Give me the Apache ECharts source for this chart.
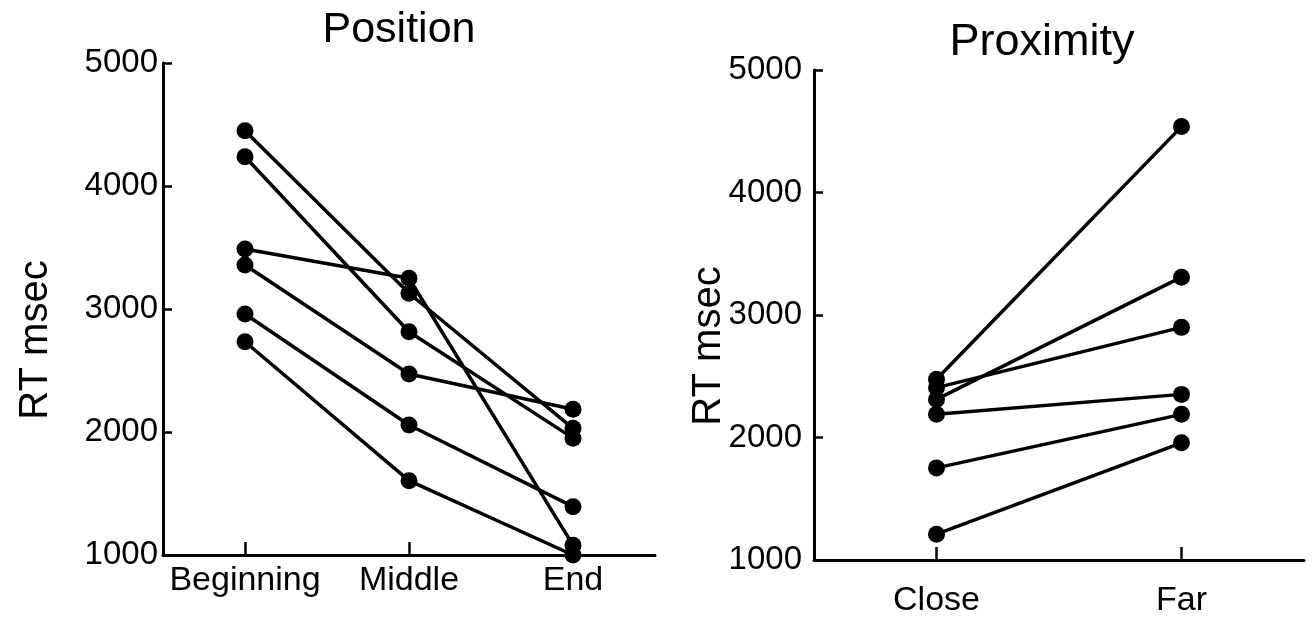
<!DOCTYPE html>
<html>
<head>
<meta charset="utf-8">
<script src="https://cdn.jsdelivr.net/npm/echarts@6/dist/echarts.min.js"></script>
<style>
html,body{margin:0;padding:0;background:#fff;}
#chart{width:1314px;height:623px;}
</style>
</head>
<body>
<div id="chart"></div>
<script>
// ---- data ----
var positionCategories = ['Beginning', 'Middle', 'End'];
var proximityCategories = ['Close', 'Far'];
var yTicks = [1000, 2000, 3000, 4000, 5000];

// Position panel: one array per subject (Beginning, Middle, End)
var pos1 = [4450, 3128, 2030];
var pos2 = [4238, 2815, 1950];
var pos3 = [3488, 3250, 1080];
var pos4 = [3358, 2472, 2185];
var pos5 = [2959, 2057, 1393];
var pos6 = [2734, 1604, 1000];

// Proximity panel: one array per subject (Close, Far)
var prox1 = [2475, 4538];
var prox2 = [2407, 2899];
var prox3 = [2311, 3309];
var prox4 = [2189, 2352];
var prox5 = [1752, 2189];
var prox6 = [1211, 1957];

var FONT = 'Liberation Sans';
var positionSeries = [pos1, pos2, pos3, pos4, pos5, pos6];
var proximitySeries = [prox1, prox2, prox3, prox4, prox5, prox6];

function mkSeries(arr, idx) {
  return arr.map(function (d) {
    return {
      type: 'line',
      xAxisIndex: idx,
      yAxisIndex: idx,
      data: d,
      symbol: 'circle',
      symbolSize: 17,
      itemStyle: { color: '#000' },
      lineStyle: { color: '#000', width: 3.5 },
      silent: true,
      animation: false
    };
  });
}

function yAxisCfg(idx, margin) {
  return {
    type: 'value',
    gridIndex: idx,
    min: yTicks[0],
    max: yTicks[yTicks.length - 1],
    interval: 1000,
    axisLine: { show: true, lineStyle: { color: '#000', width: 3 } },
    axisTick: { show: true, inside: true, length: 9, lineStyle: { color: '#000', width: 2.5 } },
    axisLabel: { color: '#000', fontFamily: FONT, fontSize: 33, margin: margin,
      formatter: function (v) { return String(v); } },
    splitLine: { show: false }
  };
}

function xAxisCfg(idx, cats, margin) {
  return {
    type: 'category',
    gridIndex: idx,
    data: cats,
    boundaryGap: true,
    axisLine: { show: true, lineStyle: { color: '#000', width: 3 } },
    axisTick: { show: true, inside: true, alignWithLabel: true, length: 13, lineStyle: { color: '#000', width: 2.5 } },
    axisLabel: { color: '#000', fontFamily: FONT, fontSize: 34, margin: margin, interval: 0, hideOverlap: false },
    splitLine: { show: false }
  };
}

var chart = echarts.init(document.getElementById('chart'), null, { renderer: 'canvas' });
chart.setOption({
  backgroundColor: '#fff',
  animation: false,
  title: [
    { text: 'Position', left: 394, top: 4, textAlign: 'center',
      textStyle: { fontFamily: FONT, fontSize: 43, fontWeight: 'normal', color: '#000' } },
    { text: 'Proximity', left: 1037, top: 15, textAlign: 'center',
      textStyle: { fontFamily: FONT, fontSize: 45, fontWeight: 'normal', color: '#000' } }
  ],
  grid: [
    { left: 163, top: 63, width: 492, height: 492 },
    { left: 814, top: 70, width: 490, height: 490 }
  ],
  xAxis: [xAxisCfg(0, positionCategories, 9), xAxisCfg(1, proximityCategories, 24)],
  yAxis: [yAxisCfg(0, 5), yAxisCfg(1, 12)],
  graphic: [
    { type: 'text', x: 56, y: 340, rotation: Math.PI / 2,
      style: { text: 'RT msec', fontFamily: FONT, fontSize: 40, fill: '#000', align: 'center', verticalAlign: 'bottom' } },
    { type: 'text', x: 729, y: 346, rotation: Math.PI / 2,
      style: { text: 'RT msec', fontFamily: FONT, fontSize: 40, fill: '#000', align: 'center', verticalAlign: 'bottom' } }
  ],
  series: mkSeries(positionSeries, 0).concat(mkSeries(proximitySeries, 1))
});
</script>
</body>
</html>
